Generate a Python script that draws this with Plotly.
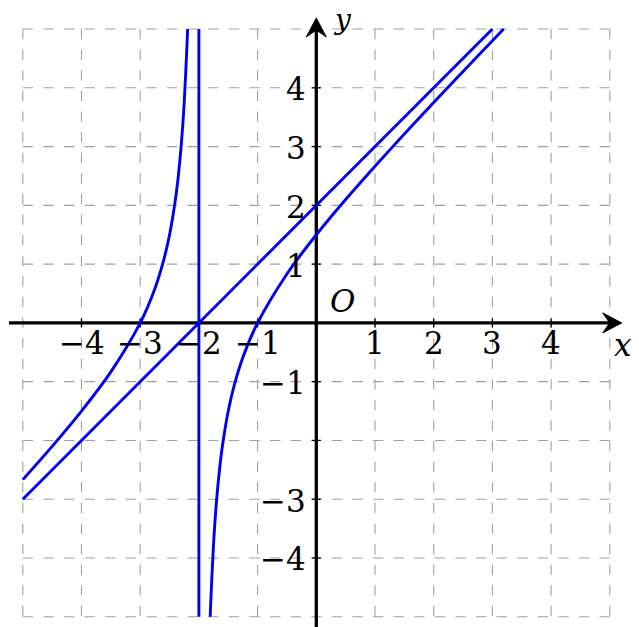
import plotly.graph_objects as go

# ---- data ----
# left branch of the curve
left_x = [-5.0, -4.5, -4.0, -3.5, -3.0, -2.75, -2.6, -2.5, -2.4, -2.35, -2.3, -2.25, -2.2, -2.1926]
left_y = [-2.667, -2.1, -1.5, -0.833, 0.0, 0.583, 1.067, 1.5, 2.1, 2.507, 3.033, 3.75, 4.8, 5.0]
# right branch of the curve
right_x = [-1.8074, -1.8, -1.75, -1.7, -1.65, -1.6, -1.5, -1.4, -1.25, -1.0, -0.5, 0.0, 0.5, 1.0, 1.5, 2.0, 2.5, 3.0, 3.1926]
right_y = [-5.0, -4.8, -3.75, -3.033, -2.507, -2.1, -1.5, -1.067, -0.583, 0.0, 0.833, 1.5, 2.1, 2.667, 3.214, 3.75, 4.278, 4.8, 5.0]
# oblique asymptote
obl_x = [-5.0, 3.0]
obl_y = [-3.0, 5.0]
# vertical asymptote
vert_x = [-2.0, -2.0]
vert_y = [-5.0, 5.0]

x_tick_vals = [-4, -3, -2, -1, 1, 2, 3, 4]
x_tick_text = ["−4", "−3", "−2", "−1", "1", "2", "3", "4"]
y_tick_vals = [4, 3, 2, 1, -1, -3, -4]
y_tick_text = ["4", "3", "2", "1", "−1", "−3", "−4"]
grid_vals = [-5, -4, -3, -2, -1, 0, 1, 2, 3, 4, 5]

# ---- layout geometry (pixels) ----
W, H = 639, 627
X0PX, Y0PX = 316.3, 322.9   # pixel of origin
SX, SY = 58.7, 58.77        # pixels per unit
UX, UY = 1 / SX, 1 / SY

def px2x(p):
    return (p - X0PX) / SX

def px2y(p):
    return (Y0PX - p) / SY

BLUE = "#0000f0"
GRID = "#a0a0a0"
FONT = "DejaVu Serif"
FS = 31

fig = go.Figure()

# grid
gx, gy = [], []
for v in grid_vals:  # vertical lines, top to bottom
    gx += [v, v, None]
    gy += [5, -5, None]
for v in grid_vals:  # horizontal lines, left to right
    gx += [-5, 5, None]
    gy += [v, v, None]
fig.add_trace(go.Scatter(x=gx, y=gy, mode="lines", hoverinfo="skip",
                         line=dict(color=GRID, width=1.1, dash="10.3px,10.3px")))

# axes
x_tip = px2x(621.7)
y_tip = px2y(18)
fig.add_trace(go.Scatter(x=[px2x(9), x_tip - 12 * UX], y=[0, 0], mode="lines",
                         line=dict(color="black", width=3.3), hoverinfo="skip"))
fig.add_trace(go.Scatter(x=[0, 0], y=[px2y(H + 5), y_tip - 12 * UY], mode="lines",
                         line=dict(color="black", width=3.3), hoverinfo="skip"))
# arrow heads
fig.add_trace(go.Scatter(
    x=[x_tip, x_tip - 19 * UX, x_tip - 12 * UX, x_tip - 19 * UX, x_tip],
    y=[0, 10 * UY, 0, -10 * UY, 0], mode="lines", fill="toself",
    fillcolor="black", line=dict(color="black", width=1), hoverinfo="skip"))
fig.add_trace(go.Scatter(
    x=[0, 10 * UX, 0, -10 * UX, 0],
    y=[y_tip, y_tip - 19 * UY, y_tip - 12 * UY, y_tip - 19 * UY, y_tip], mode="lines", fill="toself",
    fillcolor="black", line=dict(color="black", width=1), hoverinfo="skip"))

# tick marks
tx, ty = [], []
for v in x_tick_vals:
    tx += [v, v, None]
    ty += [-4.5 * UY, 4.5 * UY, None]
for v in [4, 3, 2, 1, -1, -2, -3, -4]:
    tx += [-4.5 * UX, 4.5 * UX, None]
    ty += [v, v, None]
fig.add_trace(go.Scatter(x=tx, y=ty, mode="lines", line=dict(color="black", width=1.3),
                         hoverinfo="skip"))

# curves
for xs, ys in [(obl_x, obl_y), (vert_x, vert_y)]:
    fig.add_trace(go.Scatter(x=xs, y=ys, mode="lines", line=dict(color=BLUE, width=2.9),
                             hoverinfo="skip"))
for xs, ys in [(left_x, left_y), (right_x, right_y)]:
    fig.add_trace(go.Scatter(x=xs, y=ys, mode="lines",
                             line=dict(color=BLUE, width=2.9, shape="spline", smoothing=0.8),
                             hoverinfo="skip"))

# labels
ann = []
for v, t in zip(x_tick_vals, x_tick_text):
    ann.append(dict(x=v, y=px2y(343), text=t, showarrow=False, xanchor="center",
                    yanchor="middle", font=dict(family=FONT, size=FS, color="black")))
for v, t in zip(y_tick_vals, y_tick_text):
    ann.append(dict(x=px2x(308), y=v - 1.5 * UY, text=t, showarrow=False, xanchor="right",
                    yanchor="middle", font=dict(family=FONT, size=FS, color="black")))
ann.append(dict(x=px2x(342.5), y=px2y(301), text="<i>O</i>", showarrow=False,
                xanchor="center", yanchor="middle", font=dict(family=FONT, size=FS, color="black")))
ann.append(dict(x=px2x(623), y=px2y(345), text="<i>x</i>", showarrow=False,
                xanchor="center", yanchor="middle", font=dict(family=FONT, size=FS, color="black")))
ann.append(dict(x=px2x(342), y=px2y(19), text="<i>y</i>", showarrow=False,
                xanchor="center", yanchor="middle", font=dict(family=FONT, size=28, color="black")))

fig.update_layout(
    width=W, height=H, margin=dict(l=0, r=0, t=0, b=0),
    paper_bgcolor="white", plot_bgcolor="white", showlegend=False,
    xaxis=dict(range=[px2x(0), px2x(W)], visible=False, fixedrange=True),
    yaxis=dict(range=[px2y(H), px2y(0)], visible=False, fixedrange=True),
    annotations=ann,
)

fig.write_html("out.html", config={"displayModeBar": False},
               post_script="document.body.style.margin='0';document.body.style.overflow='hidden';")
